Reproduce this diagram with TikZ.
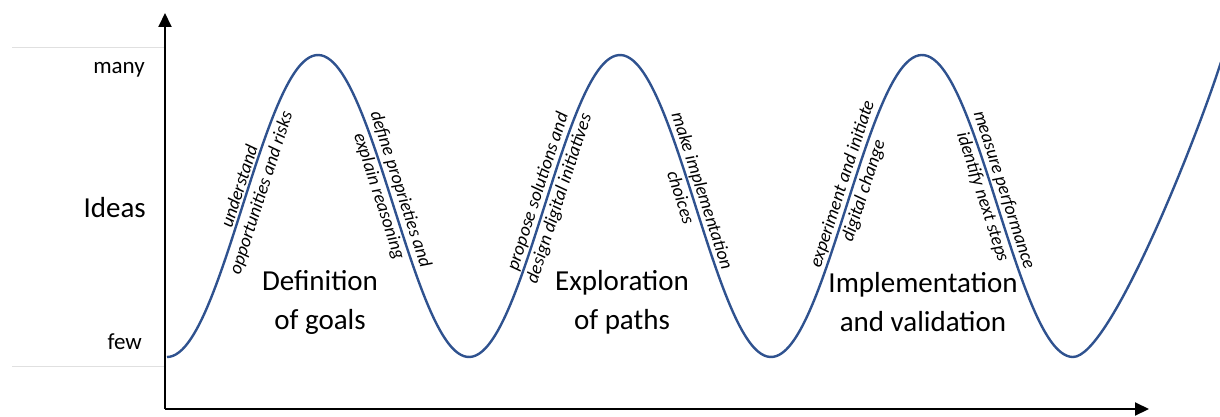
\documentclass[tikz,border=0pt]{standalone}
\usepackage{fontspec}
\setmainfont{Carlito}
\usetikzlibrary{arrows.meta}
\definecolor{curveblue}{RGB}{47,82,143}
\begin{document}
\begin{tikzpicture}[x=1pt,y=1pt,
  axis/.style={line width=2pt, -{Triangle[length=14pt,width=13pt]}},
  guide/.style={draw=black!12, line width=0.8pt},
  wave/.style={draw=curveblue, line width=2.4pt, line join=round},
  tick/.style={font=\fontsize{23}{27}\selectfont, anchor=east, inner sep=0pt},
  big/.style={font=\fontsize{29}{39}\selectfont, align=center, inner sep=0pt},
  slope/.style={font=\itshape\fontsize{18.5}{22.5}\selectfont, align=center, inner sep=0pt},
]
\useasboundingbox (0,0) rectangle (1220,416);
\coordinate (o) at (165,7);
\coordinate (ytip) at (165,403);
\coordinate (xtip) at (1149,7);
\coordinate (g1a) at (12,369); \coordinate (g1b) at (165,369);
\coordinate (g2a) at (12,50); \coordinate (g2b) at (165,50);
\coordinate (wend) at (1221,354);
\draw[guide] (g1a) -- (g1b);
\draw[guide] (g2a) -- (g2b);
\draw[wave] plot[domain=167:1073, samples=300, smooth] (\x, {210-151*cos(1.192053*(\x-167))})
  .. controls (1110,59) and (1196,276) .. (wend);
\draw[axis] (o) -- (ytip);
\draw[axis] (o) -- (xtip);
\node[tick] (many) at (145,346) {many};
\node[tick, font=\fontsize{29}{35}\selectfont] (ideas) at (146,208) {Ideas};
\node[tick] (few) at (142,74) {few};
\node[big] (goals) at (320,113.5) {Definition\\of goals};
\node[big] (paths) at (622,113.5) {Exploration\\of paths};
\node[big] (valid) at (923,113.5) {Implementation\\and validation};
\node[slope, rotate=72] (s1) at (251,226) {understand\\opportunities and risks};
\node[slope, rotate=-72] (s2) at (389.5,223) {define proprieties and\\explain reasoning};
\node[slope, rotate=72] (s3) at (549,221) {propose solutions and\\design digital initiatives};
\node[slope, rotate=-72] (s4) at (692,222) {make implementation\\choices};
\node[slope, rotate=72] (s5) at (853.5,228.5) {experiment and initiate\\digital change};
\node[slope, rotate=-72] (s6) at (993,222.5) {measure performance\\identify next steps};
\end{tikzpicture}
\end{document}
